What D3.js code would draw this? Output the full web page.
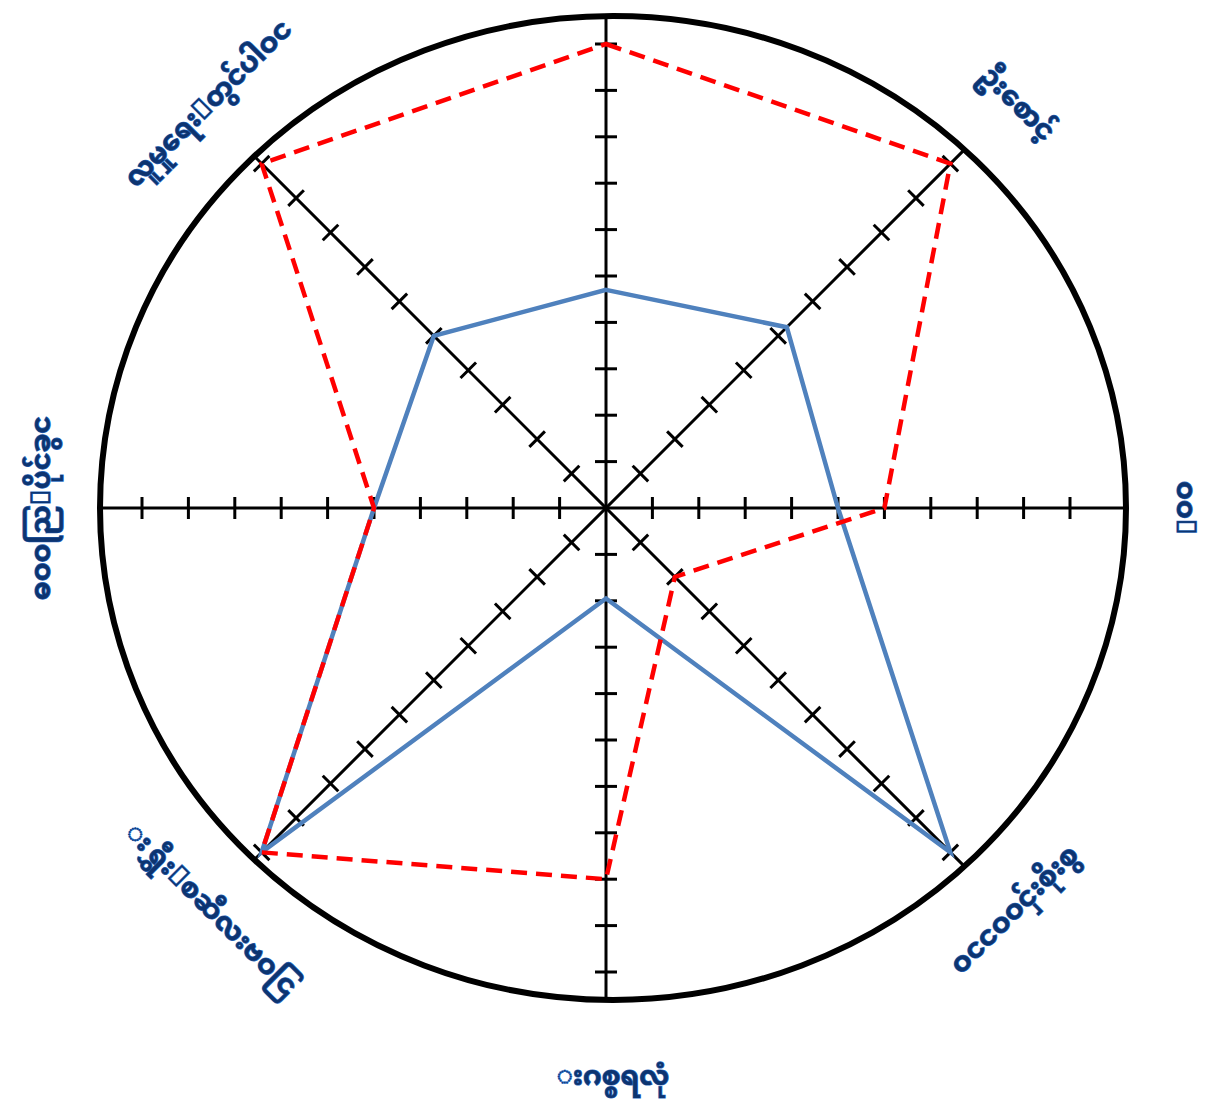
<!DOCTYPE html>
<html>
<head>
<meta charset="utf-8">
<script src="https://cdn.jsdelivr.net/npm/d3@7"></script>
<style>
  html, body { margin: 0; padding: 0; background: #fff; }
  svg { display: block; }
</style>
</head>
<body>
<svg id="chart" width="1220" height="1111"></svg>
<script>
// ---- data ----
const categories = ["", "ဦးစောင့်", "ဝဝ\uE000", "ဝငငဝဝငှ်းစိုးစွ", "းဂစ္စရလုံ", "းရွှီး\uE000စဆီလးဗဝငြ", "ဓဝဝညြ\uE000ပိုင်ခွင", "လူမှုရေး\uE000တွင်ပါဝင"];
const seriesRed  = [10, 10, 6, 2, 8, 10, 5, 10];
const seriesBlue = [4.7, 5.25, 5, 10, 1.95, 10, 5, 5];
const tickValues = [1, 2, 3, 4, 5, 6, 7, 8, 9, 10];

// ---- layout ----
const svg = d3.select("#chart");
const cx = 606, cy = 508;
const ell = { cx: 613, cy: 508, rx: 513, ry: 492 };
const n = categories.length;
const angle = d3.scaleLinear().domain([0, n]).range([0, 2 * Math.PI]);
const rOrth = d3.scaleLinear().domain([0, 10]).range([0, 464]);
const rDiag = d3.scaleLinear().domain([0, 10]).range([0, 487]);
const rFor = i => (i % 2 === 0 ? rOrth : rDiag);

function pt(i, v) {
  const a = angle(i), r = rFor(i)(v);
  return [cx + r * Math.sin(a), cy - r * Math.cos(a)];
}
// intersection of ray from centre with ellipse
function edge(i) {
  const a = angle(i), dx = Math.sin(a), dy = -Math.cos(a);
  const ox = cx - ell.cx, oy = cy - ell.cy;
  const A = dx * dx / (ell.rx * ell.rx) + dy * dy / (ell.ry * ell.ry);
  const B = 2 * (ox * dx / (ell.rx * ell.rx) + oy * dy / (ell.ry * ell.ry));
  const C = ox * ox / (ell.rx * ell.rx) + oy * oy / (ell.ry * ell.ry) - 1;
  const t = (-B + Math.sqrt(B * B - 4 * A * C)) / (2 * A);
  return [cx + t * dx, cy + t * dy];
}

const g = svg.append("g");

// axis lines
d3.range(n / 2).forEach(i => {
  const p1 = edge(i), p2 = edge(i + n / 2);
  g.append("line")
    .attr("x1", p1[0]).attr("y1", p1[1]).attr("x2", p2[0]).attr("y2", p2[1])
    .attr("stroke", "#000").attr("stroke-width", 3);
});

// ticks
d3.range(n).forEach(i => {
  const a = angle(i);
  const px = Math.cos(a), py = Math.sin(a); // perpendicular
  tickValues.forEach(v => {
    const [x, y] = pt(i, v);
    g.append("line")
      .attr("x1", x - 11 * px).attr("y1", y - 11 * py)
      .attr("x2", x + 11 * px).attr("y2", y + 11 * py)
      .attr("stroke", "#000").attr("stroke-width", 3);
  });
});

// outer ellipse
g.append("ellipse")
  .attr("cx", ell.cx).attr("cy", ell.cy).attr("rx", ell.rx).attr("ry", ell.ry)
  .attr("fill", "none").attr("stroke", "#000").attr("stroke-width", 6);

// series
const line = d3.line().curve(d3.curveLinearClosed);
g.append("path")
  .attr("d", line(seriesBlue.map((v, i) => pt(i, v))))
  .attr("fill", "none").attr("stroke", "#4f81bd").attr("stroke-width", 4.5)
  .attr("stroke-linejoin", "miter");
g.append("path")
  .attr("d", line(seriesRed.map((v, i) => pt(i, v))))
  .attr("fill", "none").attr("stroke", "#ff0000").attr("stroke-width", 4.5)
  .attr("stroke-dasharray", "16,9").attr("stroke-linejoin", "miter");

// labels
const labelR = 570;
categories.forEach((c, i) => {
  if (!c) return;
  const deg = angle(i) * 180 / Math.PI;
  let rot = deg;
  if (deg > 90 && deg < 270) rot = deg - 180;
  else if (deg >= 270) rot = deg - 360;
  const a = angle(i);
  const x = ell.cx + labelR * Math.sin(a), y = ell.cy - labelR * Math.cos(a);
  g.append("text")
    .attr("transform", `translate(${x},${y}) rotate(${rot})`)
    .attr("text-anchor", "middle")
    .attr("dominant-baseline", "central")
    .attr("font-family", "'Noto Sans Myanmar', 'Noto Sans', 'DejaVu Sans', sans-serif")
    .attr("font-size", 27)
    .attr("font-weight", "bold")
    .attr("fill", "#0d3470")
    .attr("stroke", "#2c6bbf")
    .attr("stroke-width", 1.2)
    .attr("paint-order", "stroke")
    .text(c);
});
</script>
</body>
</html>
